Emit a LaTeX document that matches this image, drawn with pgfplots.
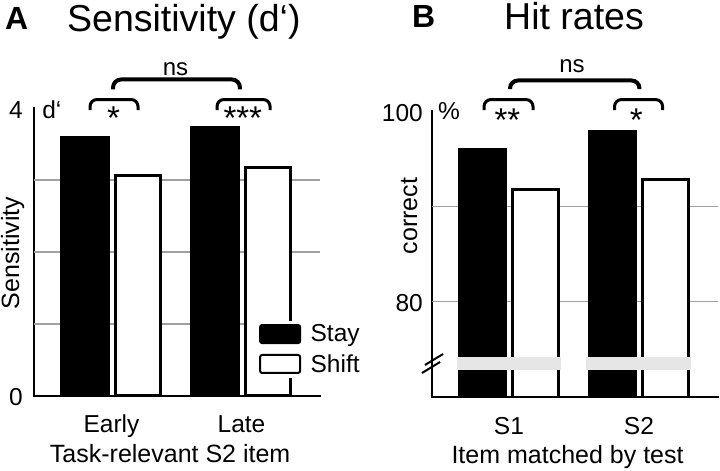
\documentclass[border=0pt]{standalone}
\usepackage{fontspec}
\setmainfont{Liberation Sans}
\usepackage{pgfplots}
\pgfplotsset{compat=1.18}
\definecolor{gridgray}{HTML}{A0A0A0}
\definecolor{breakgray}{HTML}{E6E6E6}
\newcommand{\tickfont}{\fontsize{24.5}{29}\selectfont}
\newcommand{\labfont}{\fontsize{25}{30}\selectfont}
\newcommand{\titfont}{\fontsize{37.5}{44}\selectfont}
\newcommand{\panfont}{\fontsize{32}{38}\selectfont\bfseries}
\newcommand{\sigfont}{\fontsize{24}{29}\selectfont}
\newcommand{\starfont}{\fontsize{33}{38}\selectfont}
\tikzset{
  bigbr/.style={line width=4pt, rounded corners=8pt},
  smallbr/.style={line width=3pt, rounded corners=7pt},
}
\pgfplotsset{
  panel/.style={
    scale only axis, width=286pt,
    axis x line*=bottom, axis y line*=left,
    axis line style={line width=2.5pt, black, line cap=rect},
    major tick length=0pt,
    tick style={draw=none},
    xtick={0,1},
    clip mode=individual,
    /pgf/number format/assume math mode=true,
    ticklabel style={font=\tickfont, inner sep=0pt},
    xticklabel style={anchor=base, yshift=-37pt},
    label style={font=\labfont, inner sep=0pt},
    extra tick style={grid=major},
    major grid style={gridgray, line width=1.2pt},
    extra y tick labels={},
  },
  stay/.style={ybar, fill=black, draw=black, line width=1pt, bar width=0.375, bar shift=-0.204},
  shift/.style={ybar, fill=white, draw=black, line width=3pt, bar width=0.35, bar shift=0.204},
}
\begin{document}
\begin{tikzpicture}
\useasboundingbox (0pt,0pt) rectangle (720pt,471pt);
% ---------------- Panel A ----------------
\begin{axis}[panel,
  at={(34pt,75pt)}, anchor=south west, height=288pt,
  xmin=-0.596, xmax=1.604, ymin=0, ymax=4,
  ytick={0,4}, extra y ticks={1,2,3},
  yticklabel style={anchor=base east, xshift=-11pt, yshift=-10pt},
  xticklabels={Early,Late},
  xlabel={Task-relevant S2 item},
  xlabel style={at={(axis description cs:0.476,-0.2326)}, anchor=base},
  ylabel={Sensitivity},
  ylabel style={at={(axis description cs:-0.052,0.497)}, anchor=base},
  legend style={at={(axis description cs:0.776,0.262)}, anchor=north west,
    draw=none, fill=white, inner sep=3pt, font=\tickfont, row sep=9pt,
    nodes={inner sep=1pt}},
  legend cell align=left,
  legend image code/.code={\draw[#1, line width=2pt, rounded corners=2pt] (0pt,-9pt) rectangle (40pt,9pt);\path (48pt,0pt);},
]
\addplot[stay] coordinates {(0,3.60) (1,3.74)};
\addlegendentry{Stay}
\addplot[shift] coordinates {(0,3.06) (1,3.18)};
\addlegendentry{Shift}
\node[font=\tickfont, anchor=base west, inner sep=0pt] at (axis cs:-0.534,3.86) {d‘};
\draw[smallbr] (axis cs:-0.165,3.97) -- (axis cs:-0.165,4.118) -- (axis cs:0.204,4.118) -- (axis cs:0.204,3.97);
\draw[smallbr] (axis cs:0.812,3.97) -- (axis cs:0.812,4.118) -- (axis cs:1.22,4.118) -- (axis cs:1.22,3.97);
\draw[bigbr] (axis cs:0.012,4.26) -- (axis cs:0.012,4.396) -- (axis cs:0.988,4.396) -- (axis cs:0.988,4.26);
\node[font=\starfont, anchor=base, inner sep=0pt] at (axis cs:0.015,3.708) {*};
\node[font=\starfont, anchor=base, inner sep=0pt] at (axis cs:1.01,3.708) {***};
\node[font=\sigfont, anchor=base, inner sep=0pt] at (axis cs:0.492,4.458) {ns};
\end{axis}
% ---------------- Panel B ----------------
\begin{axis}[panel,
  at={(432pt,74pt)}, anchor=south west, height=286pt,
  xmin=-0.592, xmax=1.608, ymin=70, ymax=100,
  ytick={80,100}, extra y ticks={80,90},
  yticklabel style={anchor=base east, xshift=-9pt, yshift=-10pt},
  xticklabels={S1,S2},
  xlabel={Item matched by test},
  xlabel style={at={(axis description cs:0.474,-0.2308)}, anchor=base},
]
\addplot[stay] coordinates {(0,96.1) (1,98.0)};
\addplot[shift] coordinates {(0,91.8) (1,92.8)};
\fill[breakgray] (axis cs:-0.4,72.83) rectangle (axis cs:0.4,74.2);
\fill[breakgray] (axis cs:0.596,72.83) rectangle (axis cs:1.404,74.2);
\draw[line width=2pt] (axis cs:-0.646,73.36) -- (axis cs:-0.507,74.51);
\draw[line width=2pt] (axis cs:-0.669,72.52) -- (axis cs:-0.53,73.67);
\node[font=\tickfont, anchor=base west, inner sep=0pt] at (axis cs:-0.546,99.06) {\%};
\node[font=\labfont, anchor=base, rotate=90, inner sep=0pt] at (axis cs:-0.707,88.99) {correct};
\draw[smallbr] (axis cs:-0.192,100.1) -- (axis cs:-0.192,101.2) -- (axis cs:0.185,101.2) -- (axis cs:0.185,100.1);
\draw[smallbr] (axis cs:0.812,100.1) -- (axis cs:0.812,101.2) -- (axis cs:1.182,101.2) -- (axis cs:1.182,100.1);
\draw[bigbr] (axis cs:0.008,102.3) -- (axis cs:0.008,103.2) -- (axis cs:1.004,103.2) -- (axis cs:1.004,102.3);
\node[font=\starfont, anchor=base, inner sep=0pt] at (axis cs:-0.012,97.9) {**};
\node[font=\starfont, anchor=base, inner sep=0pt] at (axis cs:0.98,97.9) {*};
\node[font=\sigfont, anchor=base, inner sep=0pt] at (axis cs:0.485,103.99) {ns};
\end{axis}
% ---------------- Titles ----------------
\node[anchor=base west, inner sep=0pt, font=\panfont] at (5pt,441pt) {A};
\node[anchor=base west, inner sep=0pt, font=\titfont] at (67pt,439pt) {Sensitivity (d‘)};
\node[anchor=base west, inner sep=0pt, font=\panfont] at (412pt,443pt) {B};
\node[anchor=base west, inner sep=0pt, font=\titfont] at (504pt,441pt) {Hit rates};
\end{tikzpicture}
\end{document}
